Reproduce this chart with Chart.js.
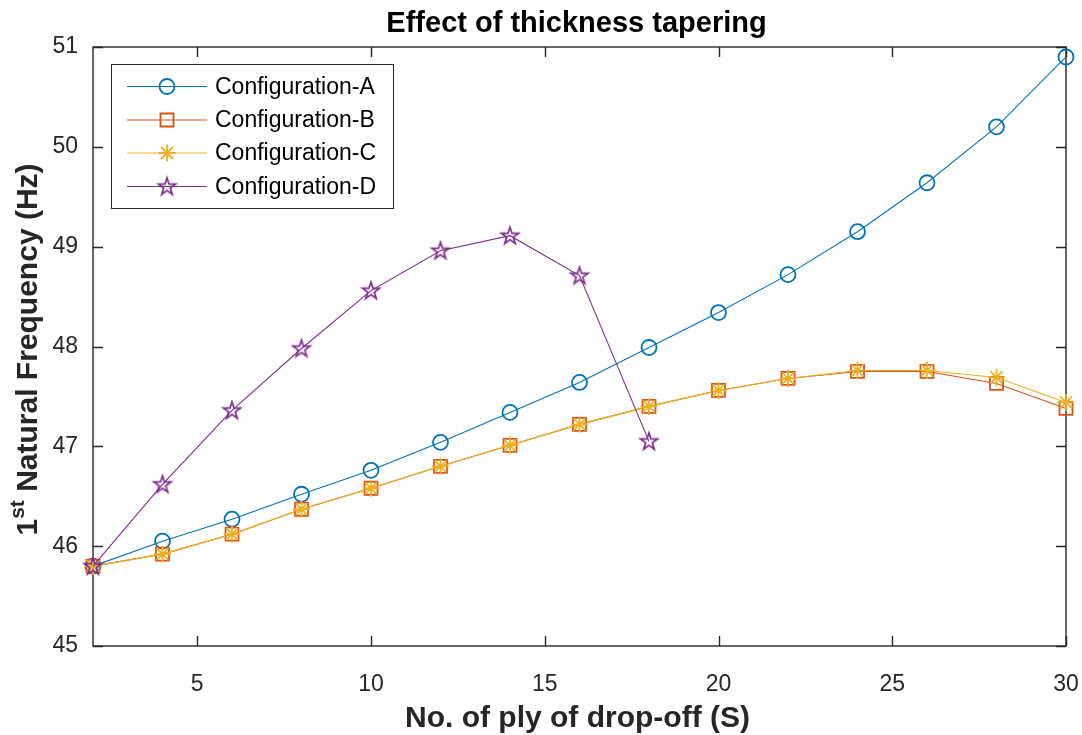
<!DOCTYPE html>
<html>
<head>
<meta charset="utf-8">
<title>Effect of thickness tapering</title>
<script src="https://cdn.jsdelivr.net/npm/chart.js@4/dist/chart.umd.min.js"></script>
<style>
  html, body { margin: 0; padding: 0; background: #ffffff; }
  #wrap { width: 1082px; height: 735px; }
</style>
</head>
<body>
<div id="wrap"><canvas id="c" width="1082" height="735"></canvas></div>
<script>
// Number of plies dropped off (S)
const plyDrop = [2, 4, 6, 8, 10, 12, 14, 16, 18, 20, 22, 24, 26, 28, 30];
const plyDropD = [2, 4, 6, 8, 10, 12, 14, 16, 18];

// First natural frequency (Hz) for each taper configuration
const configA = [45.80, 46.05, 46.27, 46.52, 46.76, 47.04, 47.34, 47.64, 47.99, 48.34, 48.72, 49.15, 49.64, 50.20, 50.90];
const configB = [45.80, 45.92, 46.12, 46.37, 46.58, 46.80, 47.01, 47.22, 47.40, 47.56, 47.68, 47.75, 47.75, 47.63, 47.38];
const configC = [45.80, 45.92, 46.12, 46.37, 46.58, 46.80, 47.01, 47.22, 47.40, 47.56, 47.68, 47.76, 47.76, 47.69, 47.44];
const configD = [45.80, 46.62, 47.36, 47.98, 48.56, 48.96, 49.11, 48.71, 47.05];

const seriesNames = ['Configuration-A', 'Configuration-B', 'Configuration-C', 'Configuration-D'];
const xTicks = [5, 10, 15, 20, 25, 30];
const yTicks = [45, 46, 47, 48, 49, 50, 51];

const titleText = 'Effect of thickness tapering';
const xTitleText = 'No. of ply of drop-off (S)';

const COLORS = ['#0072BD', '#D95319', '#EDB120', '#7E2F8E'];
const AXIS = '#262626';
const FONT = '"Liberation Sans", Arial, Helvetica, sans-serif';
const MARKER_LW = 1.8;

// Outlined five-point star used as a point marker
function makePentagram(color, R, lw) {
  const s = Math.ceil(2 * R + 2 * lw + 2);
  const c = document.createElement('canvas');
  c.width = s; c.height = s;
  const g = c.getContext('2d');
  const r = R * 0.382;
  const cx = s / 2, cy = s / 2 + 0.5;
  g.beginPath();
  for (let i = 0; i < 10; i++) {
    const a = -Math.PI / 2 + i * Math.PI / 5;
    const rr = (i % 2) ? r : R;
    g.lineTo(cx + rr * Math.cos(a), cy + rr * Math.sin(a));
  }
  g.closePath();
  g.strokeStyle = color;
  g.lineWidth = lw;
  g.lineJoin = 'miter';
  g.stroke();
  return c;
}
const pentagram = makePentagram(COLORS[3], 9, 1.7);

const toPoints = (xs, ys) => xs.map((x, i) => ({ x: x, y: ys[i] }));

function series(label, xs, ys, color, style, radius, order) {
  return {
    label: label,
    data: toPoints(xs, ys),
    borderColor: color,
    backgroundColor: 'rgba(0,0,0,0)',
    borderWidth: 1.1,
    pointStyle: style,
    pointRadius: radius,
    pointBorderColor: color,
    pointBackgroundColor: 'rgba(0,0,0,0)',
    pointBorderWidth: MARKER_LW,
    tension: 0,
    clip: false,
    order: order
  };
}

const datasets = [
  series(seriesNames[0], plyDrop, configA, COLORS[0], 'circle', 7.5, 4),
  series(seriesNames[1], plyDrop, configB, COLORS[1], 'rect', 9.2, 3),
  series(seriesNames[2], plyDrop, configC, COLORS[2], 'star', 8.5, 2),
  series(seriesNames[3], plyDropD, configD, COLORS[3], pentagram, 9, 1)
];

// Draws the boxed axes with inward ticks, the titles and the legend
const frame = {
  id: 'frame',
  beforeDatasetsDraw(chart) {
    const { ctx, chartArea: a, scales: { x, y } } = chart;
    ctx.save();
    ctx.strokeStyle = AXIS;
    ctx.lineWidth = 1.4;
    ctx.strokeRect(a.left, a.top, a.right - a.left, a.bottom - a.top);
    const tl = 10;
    ctx.beginPath();
    xTicks.forEach(v => {
      const px = Math.round(x.getPixelForValue(v)) + 0.5;
      ctx.moveTo(px, a.bottom); ctx.lineTo(px, a.bottom - tl);
      ctx.moveTo(px, a.top); ctx.lineTo(px, a.top + tl);
    });
    yTicks.forEach(v => {
      const py = Math.round(y.getPixelForValue(v)) + 0.5;
      ctx.moveTo(a.left, py); ctx.lineTo(a.left + tl, py);
      ctx.moveTo(a.right, py); ctx.lineTo(a.right - tl, py);
    });
    ctx.stroke();
    ctx.restore();
  },
  afterDraw(chart) {
    const { ctx, chartArea: a } = chart;
    const cx = (a.left + a.right) / 2;
    ctx.save();
    ctx.fillStyle = '#000000';
    ctx.textAlign = 'center';
    ctx.textBaseline = 'alphabetic';
    ctx.font = 'bold 29px ' + FONT;
    ctx.fillText(titleText, cx - 3, 32);

    ctx.fillStyle = AXIS;
    ctx.font = 'bold 30px ' + FONT;
    ctx.fillText(xTitleText, cx - 2, 727);

    // y-axis title with a superscript ordinal
    const big = 'bold 30px ' + FONT, small = 'bold 21px ' + FONT;
    const p1 = '1', p2 = 'st', p3 = ' Natural Frequency (Hz)';
    ctx.font = big; const w1 = ctx.measureText(p1).width, w3 = ctx.measureText(p3).width;
    ctx.font = small; const w2 = ctx.measureText(p2).width;
    const total = w1 + w2 + w3;
    ctx.translate(37, (a.top + a.bottom) / 2 + 3);
    ctx.rotate(-Math.PI / 2);
    ctx.textAlign = 'left';
    let sx = -total / 2;
    ctx.font = big; ctx.fillText(p1, sx, 0); sx += w1;
    ctx.font = small; ctx.fillText(p2, sx, -13); sx += w2;
    ctx.font = big; ctx.fillText(p3, sx, 0);
    ctx.restore();

    // legend
    ctx.save();
    const box = { l: 111, t: 64, r: 393, b: 208 };
    ctx.fillStyle = '#ffffff';
    ctx.fillRect(box.l, box.t, box.r - box.l, box.b - box.t);
    ctx.strokeStyle = AXIS;
    ctx.lineWidth = 1;
    ctx.strokeRect(box.l + 0.5, box.t + 0.5, box.r - box.l, box.b - box.t);
    const rows = [86.5, 120, 153, 186.5];
    ctx.font = '23px ' + FONT;
    ctx.textBaseline = 'middle';
    datasets.forEach((ds, i) => {
      const ry = rows[i];
      ctx.strokeStyle = ds.borderColor;
      ctx.lineWidth = 1.1;
      ctx.beginPath(); ctx.moveTo(127, ry); ctx.lineTo(207, ry); ctx.stroke();
      ctx.save();
      ctx.lineWidth = MARKER_LW;
      ctx.fillStyle = 'rgba(0,0,0,0)';
      Chart.helpers.drawPoint(ctx, {
        pointStyle: ds.pointStyle,
        radius: ds.pointRadius,
        rotation: 0,
        borderWidth: MARKER_LW
      }, 167, ry);
      ctx.restore();
      ctx.fillStyle = '#000000';
      ctx.fillText(ds.label, 215, ry + 1);
    });
    ctx.restore();
  }
};

new Chart(document.getElementById('c').getContext('2d'), {
  type: 'line',
  data: { datasets: datasets },
  options: {
    responsive: false,
    animation: false,
    devicePixelRatio: 1,
    layout: { padding: { top: 47, right: 16, left: 0, bottom: 0 } },
    plugins: {
      legend: { display: false },
      title: { display: false },
      tooltip: { enabled: false }
    },
    events: [],
    scales: {
      x: {
        type: 'linear',
        min: 2,
        max: 30,
        afterBuildTicks: s => { s.ticks = xTicks.map(v => ({ value: v })); },
        afterFit: s => { s.height = 89; s.paddingLeft = 0; s.paddingRight = 0; },
        grid: { display: false, drawTicks: false },
        border: { display: false },
        ticks: {
          font: { family: FONT, size: 23 },
          color: AXIS,
          padding: 25,
          maxRotation: 0,
          autoSkip: false
        }
      },
      y: {
        type: 'linear',
        min: 45,
        max: 51,
        afterBuildTicks: s => { s.ticks = yTicks.map(v => ({ value: v })); },
        afterFit: s => { s.width = 93; s.paddingTop = 0; s.paddingBottom = 0; },
        grid: { display: false, drawTicks: false },
        border: { display: false },
        ticks: {
          font: { family: FONT, size: 23 },
          color: AXIS,
          padding: 15
        }
      }
    }
  },
  plugins: [frame]
});
</script>
</body>
</html>
